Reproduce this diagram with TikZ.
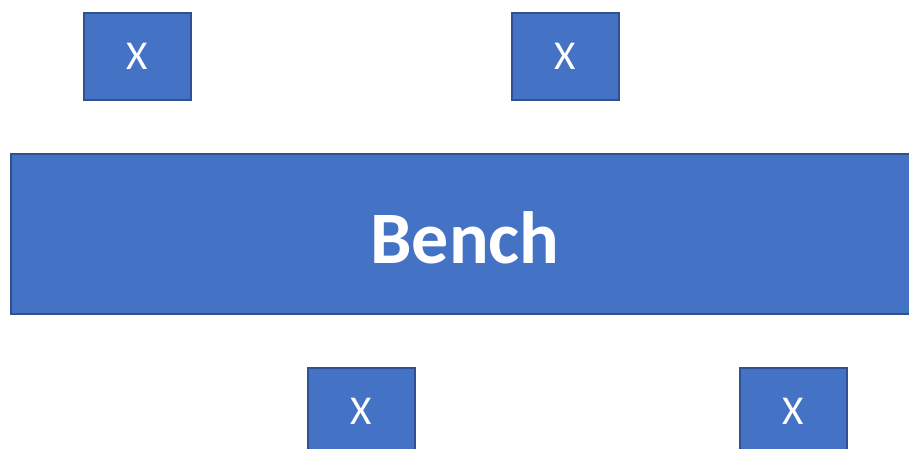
\documentclass[tikz,border=0pt]{standalone}
\usepackage{fontspec}
\setmainfont{Carlito}
\definecolor{boxfill}{HTML}{4472C4}
\definecolor{boxline}{HTML}{2F528F}
\begin{document}
\begin{tikzpicture}[x=1pt,y=-1pt,
  blk/.style={fill=boxfill,draw=boxline,line width=2pt,text=white},
  xbox/.style={blk,minimum width=107pt,minimum height=87pt,inner sep=0pt,font=\fontsize{41}{41}\selectfont}]
\useasboundingbox (0,0) rectangle (909,448);
\begin{scope}
\clip (0,0) rectangle (909,448);
\node[blk,anchor=north west,minimum width=914pt,minimum height=160pt,inner sep=0pt] (bench) at (9.5,153) {};
\node[text=white,font=\fontsize{74}{74}\selectfont\bfseries] (benchlabel) at (465,238) {Bench};
\node[xbox,anchor=north west] (x1) at (82.5,12) {X};
\node[xbox,anchor=north west] (x2) at (510.5,12) {X};
\node[xbox,anchor=north west] (x3) at (306.5,367) {X};
\node[xbox,anchor=north west] (x4) at (738.5,367) {X};
\end{scope}
\end{tikzpicture}
\end{document}
